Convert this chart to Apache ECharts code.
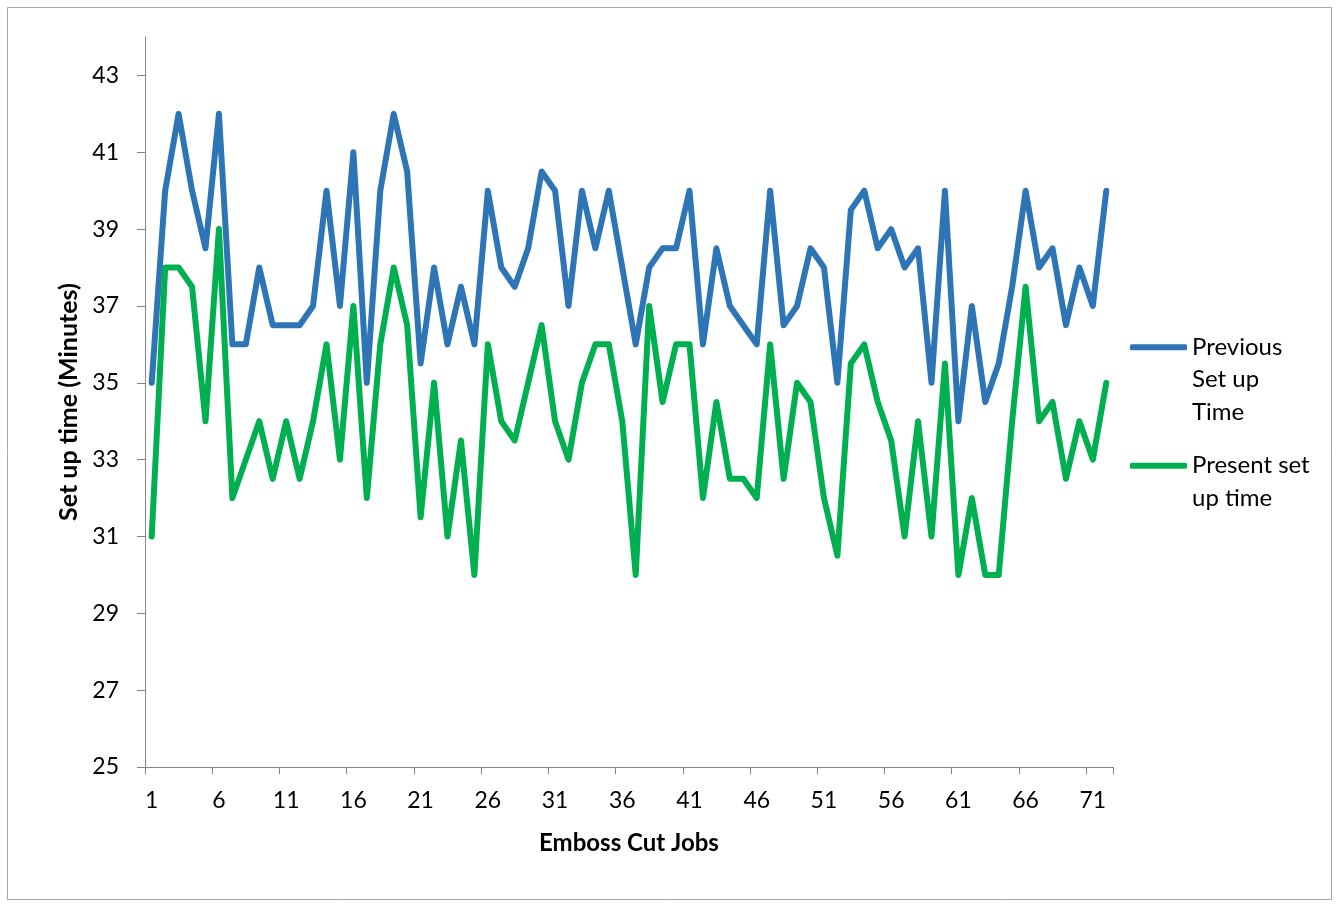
<!DOCTYPE html>
<html>
<head>
<meta charset="utf-8">
<script src="https://cdn.jsdelivr.net/npm/echarts@6/dist/echarts.min.js"></script>
<style>
html,body{margin:0;padding:0;background:#fff;}
#chart{width:1339px;height:906px;}
</style>
</head>
<body>
<div id="chart"></div>
<script>
var jobs = [];
for (var i = 1; i <= 72; i++) jobs.push(String(i));

var previousSetUp = [
  35, 40, 42, 40, 38.5, 42, 36, 36, 38, 36.5,
  36.5, 36.5, 37, 40, 37, 41, 35, 40, 42, 40.5,
  35.5, 38, 36, 37.5, 36, 40, 38, 37.5, 38.5, 40.5,
  40, 37, 40, 38.5, 40, 38, 36, 38, 38.5, 38.5,
  40, 36, 38.5, 37, 36.5, 36, 40, 36.5, 37, 38.5,
  38, 35, 39.5, 40, 38.5, 39, 38, 38.5, 35, 40,
  34, 37, 34.5, 35.5, 37.5, 40, 38, 38.5, 36.5, 38,
  37, 40
];

var presentSetUp = [
  31, 38, 38, 37.5, 34, 39, 32, 33, 34, 32.5,
  34, 32.5, 34, 36, 33, 37, 32, 36, 38, 36.5,
  31.5, 35, 31, 33.5, 30, 36, 34, 33.5, 35, 36.5,
  34, 33, 35, 36, 36, 34, 30, 37, 34.5, 36,
  36, 32, 34.5, 32.5, 32.5, 32, 36, 32.5, 35, 34.5,
  32, 30.5, 35.5, 36, 34.5, 33.5, 31, 34, 31, 35.5,
  30, 32, 30, 30, 34, 37.5, 34, 34.5, 32.5, 34,
  33, 35
];

var yTicks = [25, 27, 29, 31, 33, 35, 37, 39, 41, 43];

var seriesNames = ['Previous Set up Time', 'Present set up time'];
// leading blank lines keep the legend line level with the first text line
var legendTexts = ['\n\nPrevious\nSet up\nTime', '\nPresent set\nup time'];

var FONT = 'Lato';
var chart = echarts.init(document.getElementById('chart'));

chart.setOption({
  animation: false,
  backgroundColor: '#ffffff',
  textStyle: { fontFamily: FONT },
  graphic: [{
    type: 'rect',
    shape: { x: 7.5, y: 7.5, width: 1324, height: 892 },
    style: { fill: 'none', stroke: '#a6a6a6', lineWidth: 1 },
    silent: true
  }],
  grid: { left: 145, right: 226, top: 37, bottom: 139, containLabel: false },
  xAxis: {
    type: 'category',
    data: jobs,
    boundaryGap: true,
    name: 'Emboss Cut Jobs',
    nameLocation: 'middle',
    nameGap: 64,
    nameTextStyle: { fontFamily: FONT, fontSize: 24, fontWeight: 'bold', color: '#000' },
    axisLine: { lineStyle: { color: '#868686', width: 1 } },
    axisTick: { show: true, interval: 4, length: 7, lineStyle: { color: '#868686' } },
    axisLabel: { interval: 4, margin: 22, fontFamily: FONT, fontSize: 23, color: '#000' },
    splitLine: { show: false }
  },
  yAxis: {
    type: 'value',
    min: 25,
    max: 44,
    name: 'Set up time (Minutes)',
    nameLocation: 'middle',
    nameRotate: 90,
    nameGap: 63,
    nameTextStyle: { fontFamily: FONT, fontSize: 25, fontWeight: 'bold', color: '#000' },
    axisLine: { show: true, lineStyle: { color: '#868686', width: 1 } },
    axisTick: { show: true, length: 8, customValues: yTicks, lineStyle: { color: '#868686' } },
    axisLabel: { margin: 26, customValues: yTicks, fontFamily: FONT, fontSize: 23, color: '#000' },
    splitLine: { show: false }
  },
  legend: [{
    data: [seriesNames[0]],
    orient: 'vertical',
    left: 1130,
    top: 266,
    padding: 0,
    itemWidth: 57,
    itemHeight: 6,
    itemGap: 0,
    icon: 'roundRect',
    formatter: function () { return legendTexts[0]; },
    textStyle: { fontFamily: FONT, fontSize: 24, color: '#000', lineHeight: 32.5 }
  }, {
    data: [seriesNames[1]],
    orient: 'vertical',
    left: 1130,
    top: 417,
    padding: 0,
    itemWidth: 57,
    itemHeight: 6,
    itemGap: 0,
    icon: 'roundRect',
    formatter: function () { return legendTexts[1]; },
    textStyle: { fontFamily: FONT, fontSize: 24, color: '#000', lineHeight: 32.5 }
  }],
  series: [{
    name: seriesNames[0],
    type: 'line',
    data: previousSetUp,
    showSymbol: false,
    symbol: 'none',
    lineStyle: { color: '#2E75B6', width: 6, cap: 'round', join: 'round' },
    itemStyle: { color: '#2E75B6' }
  }, {
    name: seriesNames[1],
    type: 'line',
    data: presentSetUp,
    showSymbol: false,
    symbol: 'none',
    lineStyle: { color: '#00B050', width: 6, cap: 'round', join: 'round' },
    itemStyle: { color: '#00B050' }
  }]
});
</script>
</body>
</html>
